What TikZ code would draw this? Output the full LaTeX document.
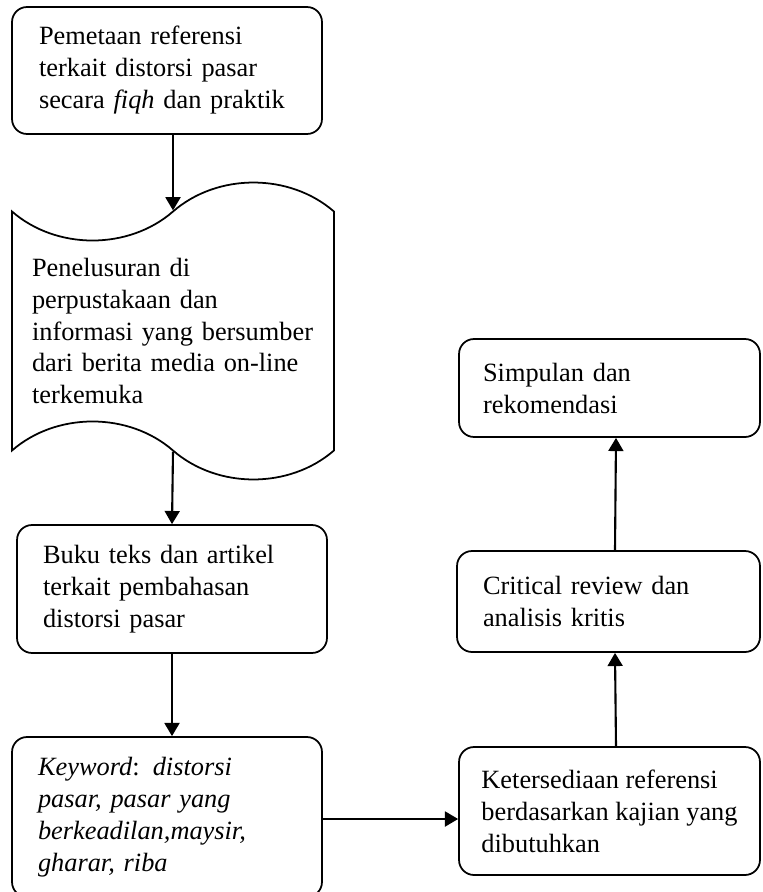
\documentclass[tikz,border=0pt]{standalone}
\usepackage{fontspec}
\setmainfont{Liberation Serif}
\usetikzlibrary{shapes.symbols,arrows.meta}

\tikzset{
    kotak/.style={shape=rectangle, draw=black, line width=1pt, rounded corners=0.3cm,
        align=left, minimum width=6.2cm, font=\fontsize{15}{18.2}\selectfont},
    pita/.style={shape=tape, draw=black, line width=1pt, align=left,
        tape bend top=in and out, tape bend bottom=out and in, tape bend height=1.16cm,
        font=\fontsize{15}{18.2}\selectfont},
    panah/.style={-{Triangle[length=7.5pt,width=8.5pt]}, line width=1.2pt}
}

\begin{document}
\begin{tikzpicture}[x=0.02cm,y=-0.02cm]
            \useasboundingbox (0,0) rectangle (762,892);

            \node[kotak, minimum height=2.54cm, text width=5.12cm] (pemetaan) at (167,70.5) {Pemetaan referensi\\terkait distorsi pasar\\secara \textit{fiqh} dan praktik};
            \node[pita, minimum width=6.44cm, minimum height=5.94cm, text width=5.64cm] (penelusuran) at (173,331) {Penelusuran di\\perpustakaan dan\\informasi yang bersumber\\dari berita media on-line\\terkemuka};
            \node[kotak, minimum height=2.56cm, text width=5.16cm] (buku) at (172,589) {Buku teks dan artikel\\terkait pembahasan\\distorsi pasar};
            \node[kotak, minimum height=3.2cm, text width=5.16cm] (keyword) at (167,817) {\textit{Keyword}: \textit{distorsi}\\\textit{pasar, pasar yang}\\\textit{berkeadilan,maysir,}\\\textit{gharar, riba}};
            \node[kotak, minimum width=6.02cm, minimum height=2.56cm] (ketersediaan) at (609.5,811) {Ketersediaan referensi\\berdasarkan kajian yang\\dibutuhkan};
            \node[kotak, minimum width=6.06cm, minimum height=2.02cm, text width=5.02cm] (critical) at (608.5,601.5) {Critical review dan\\analisis kritis};
            \node[kotak, minimum width=6.02cm, minimum height=1.96cm, text width=5.06cm] (simpulan) at (609.5,388) {Simpulan dan\\rekomendasi};

            %Panah

            \draw[panah] (pemetaan.south -| penelusuran.north) -- (penelusuran.north);
            \draw[panah] (penelusuran.south) -- (buku.north);
            \draw[panah] (buku.south) -- (buku.south |- keyword.north);
            \draw[panah] ([yshift=-0.04cm]keyword.east) -- ([yshift=-0.04cm]keyword.east -| ketersediaan.west);
            \draw[panah] ([xshift=0.13cm]ketersediaan.north) -- ([xshift=0.13cm]critical.south);
            \draw[panah] ([xshift=0.13cm]critical.north) -- ([xshift=0.13cm]simpulan.south);
        \end{tikzpicture}
\end{document}
